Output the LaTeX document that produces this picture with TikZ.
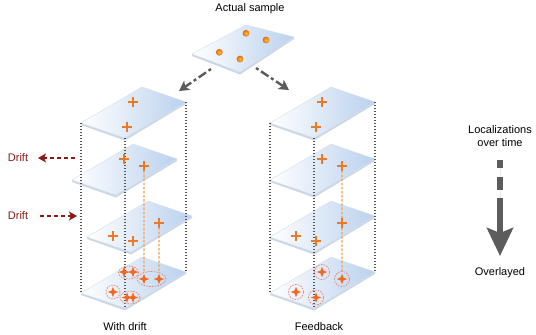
\documentclass[tikz,border=0pt]{standalone}
\usepackage{fontspec}
\setmainfont{Liberation Sans}
\usetikzlibrary{shapes.geometric,shapes.misc,arrows.meta,calc}

\definecolor{planeblue}{RGB}{186,209,238}
\definecolor{planeedge}{RGB}{212,222,236}
\definecolor{planeside}{RGB}{204,215,230}
\definecolor{plusor}{RGB}{234,122,40}
\definecolor{staror}{RGB}{244,104,30}
\definecolor{ringred}{RGB}{230,132,118}
\definecolor{tracor}{RGB}{244,160,80}
\definecolor{dotgray}{RGB}{85,85,85}
\definecolor{driftred}{RGB}{140,24,24}
\definecolor{arrgray}{RGB}{92,92,92}
\definecolor{ballin}{RGB}{255,196,60}
\definecolor{ballout}{RGB}{230,105,10}

\newcommand\drawplane[3]{%
  \coordinate (#1-L) at (#2,#3);
  \coordinate (#1-B) at ($(#1-L)+(44,15)$);
  \coordinate (#1-T) at ($(#1-L)+(61,-36)$);
  \coordinate (#1-R) at ($(#1-L)+(105,-21)$);
  \fill[planeside] (#1-L) -- (#1-B) -- (#1-R) -- ($(#1-R)+(0,2)$) -- ($(#1-B)+(0,2.5)$) -- ($(#1-L)+(0,2)$) -- cycle;
  \shadedraw[left color=white, right color=planeblue, draw=planeedge, line width=0.4pt, line join=round]
    (#1-L) -- (#1-B) -- (#1-R) -- (#1-T) -- cycle;
}

\tikzset{
  plusmark/.style={cross out, draw=plusor, line width=1.1pt, rotate=45, minimum size=6.4pt, inner sep=0pt, outer sep=0pt},
  starmark/.style={star, star points=4, star point ratio=2.6, fill=staror, inner sep=0pt, minimum size=10.5pt},
  ring/.style={ellipse, draw=ringred, dash pattern=on 1.6pt off 1.2pt, line width=0.7pt, inner sep=0pt},
  guide/.style={draw=dotgray, line width=1.2pt, dash pattern=on 1.3pt off 1.7pt},
  trace/.style={draw=tracor, line width=1.1pt, dash pattern=on 2.5pt off 1.6pt},
  splitarrow/.style={draw=arrgray, line width=2.4pt, dash pattern=on 3pt off 3pt on 9pt off 3pt,
    -{Stealth[length=10pt,width=11pt,inset=2.5pt]}},
  driftarrow/.style={draw=driftred, line width=1.8pt, dash pattern=on 4pt off 3pt,
    -{Stealth[length=8pt,width=9pt,inset=2pt]}},
  ballmark/.style={circle, inner color=ballin, outer color=ballout, inner sep=0pt, minimum size=6.8pt},
  lbl/.style={inner sep=0pt, text=black},
}

\begin{document}
\begin{tikzpicture}[x=1pt,y=-1pt, font=\fontsize{11}{13}\selectfont]
\useasboundingbox (0,0) rectangle (536,335);
\fill[white] (0,0) rectangle (536,335);

% ---- left column planes
\drawplane{P1}{81}{123}
\drawplane{P2}{72}{180}
\drawplane{P3}{87}{237}
\drawplane{P4}{81}{293}
% ---- right column planes
\drawplane{Q1}{270}{123}
\drawplane{Q2}{270}{180}
\drawplane{Q3}{270}{237}
\drawplane{Q4}{270}{293}

% ---- gray dotted guides
\draw[guide] (P1-L) -- (P4-L);
\draw[guide] (P1-B) -- (P4-B);
\draw[guide] (P1-R) -- (P4-R);
\draw[guide] (Q1-L) -- (Q4-L);
\draw[guide] (Q1-B) -- (Q4-B);
\draw[guide] (Q1-R) -- (Q4-R);

% ---- localizations, left column
\node[plusmark] (l1a) at (133,102) {};
\node[plusmark] (l1b) at (127,127) {};
\node[plusmark] (l2a) at (124,159) {};
\node[plusmark] (l2c) at (144,166) {};
\node[plusmark] (l3d) at (113,236) {};
\node[plusmark] (l3e) at (133,241) {};
\node[plusmark] (l3c) at (159,223) {};
% overlay stars, left
\node[starmark] (sa1) at (133,272) {};
\node[starmark] (sa2) at (124,272) {};
\node[starmark] (sc2) at (144,279) {};
\node[starmark] (sc3) at (159,279) {};
\node[starmark] (sd3) at (113,292) {};
\node[starmark] (sb1) at (127,297.5) {};
\node[starmark] (sb3) at (133,297.5) {};
\draw[trace] (l2c) -- (sc2);
\draw[trace] (l3c) -- (sc3);
\node[ring, minimum width=20pt, minimum height=13pt] (ringa) at (128.5,272.5) {};
\node[ring, minimum width=29pt, minimum height=15pt] (ringc) at (151.5,279) {};
\node[ring, minimum width=14pt, minimum height=14pt] (ringd) at (113,292) {};
\node[ring, minimum width=20pt, minimum height=13pt] (ringb) at (130,297.5) {};

% ---- localizations, right column
\node[plusmark] (r1a) at (322,102) {};
\node[plusmark] (r1b) at (316,127) {};
\node[plusmark] (r2a) at (322,159) {};
\node[plusmark] (r2c) at (342,166) {};
\node[plusmark] (r3d) at (296,236) {};
\node[plusmark] (r3e) at (316,241) {};
\node[starmark] (ta) at (322,272) {};
\node[starmark] (tc) at (342,279) {};
\node[starmark] (td) at (296,292) {};
\node[starmark] (tb) at (316,297.5) {};
\draw[trace] (r2c) -- (tc);
\node[plusmark] (r3c) at (342,223) {};
\node[ring, minimum size=15pt] (rra) at (322,272) {};
\node[ring, minimum size=15pt] (rrc) at (342,279) {};
\node[ring, minimum size=15pt] (rrd) at (296,292) {};
\node[ring, minimum size=15pt] (rrb) at (316,297.5) {};

% ---- actual sample
\coordinate (S-L) at (192,54);
\coordinate (S-B) at (240,72);
\coordinate (S-R) at (294,37);
\coordinate (S-T) at (246,25);
\fill[planeside] (S-L) -- (S-B) -- (S-R) -- ($(S-R)+(0,2)$) -- ($(S-B)+(0,2.5)$) -- ($(S-L)+(0,2)$) -- cycle;
\shadedraw[left color=white, right color=planeblue, draw=planeedge, line width=0.4pt, line join=round]
  (S-L) -- (S-B) -- (S-R) -- (S-T) -- cycle;
\node[ballmark] (b1) at (246,33.3) {};
\node[ballmark] (b2) at (266,40) {};
\node[ballmark] (b3) at (219.3,52.3) {};
\node[ballmark] (b4) at (240,59) {};
\node[lbl] (title) at (250,8.5) {Actual sample};

\coordinate (spl1) at (211,69);
\coordinate (spl1e) at (179,91);
\coordinate (spl2) at (256,68);
\coordinate (spl2e) at (289,90);
\draw[splitarrow] (spl1) -- (spl1e);
\draw[splitarrow] (spl2) -- (spl2e);

% ---- drift
\node[lbl, text=driftred] (drift1) at (18,158) {Drift};
\node[lbl, text=driftred] (drift2) at (18,216) {Drift};
\coordinate (d1s) at (75,158);
\coordinate (d1e) at (38,158);
\coordinate (d2s) at (40,216);
\coordinate (d2e) at (77,216);
\draw[driftarrow] (d1s) -- (d1e);
\draw[driftarrow] (d2s) -- (d2e);

% ---- column labels
\node[lbl] (lblA) at (125,327) {With drift};
\node[lbl] (lblB) at (319,327) {Feedback};

% ---- legend
\node[lbl, align=center] (leg1) at (500,136.5) {Localizations\\over time};
\node[lbl] (leg2) at (500,273) {Overlayed};
\coordinate (lg1) at (500,160);
\coordinate (lg2) at (500,256);
\draw[draw=arrgray, line width=6pt, dash pattern=on 8pt off 9pt on 13pt off 8pt on 300pt,
  -{Stealth[length=28pt,width=26pt,inset=5pt]}, fill=arrgray] (lg1) -- (lg2);
\end{tikzpicture}
\end{document}
